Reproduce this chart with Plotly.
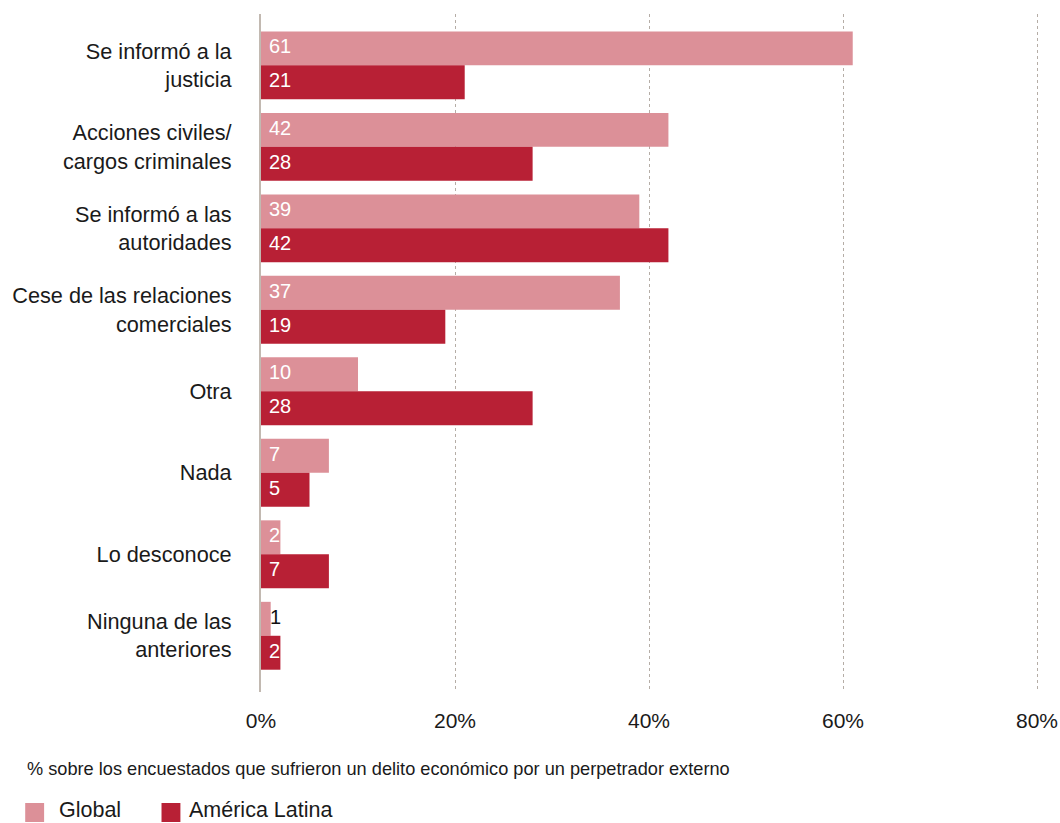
import plotly.graph_objects as go

categories = [
    "Se informó a la<br>justicia",
    "Acciones civiles/<br>cargos criminales",
    "Se informó a las<br>autoridades",
    "Cese de las relaciones<br>comerciales",
    "Otra",
    "Nada",
    "Lo desconoce",
    "Ninguna de las<br>anteriores",
]
global_vals = [61, 42, 39, 37, 10, 7, 2, 1]
latam_vals = [21, 28, 42, 19, 28, 5, 7, 2]
x_ticks = [0, 20, 40, 60, 80]
x_tick_labels = ["0%", "20%", "40%", "60%", "80%"]
series_names = ["Global", "América Latina"]

FONT = "Liberation Sans, Arial, sans-serif"
C_GLOBAL = "#dc9098"
C_LATAM = "#b82035"
TEXT = "#1a1a1a"

# plot area in pixels (used to place the footnote and the legend below it)
L, R, T, B = 257, 15, 14, 131
W, H = 1060, 823
PW, PH = W - L - R, H - T - B
X_MAX = 80.82  # a little room past the 80% gridline
BAR_PX = 34    # drawn height of one bar in the group


def px_x(px):
    return (px - L) / PW


def px_y(py):
    return (H - B - py) / PH


fig = go.Figure()
for name, vals, color in [(series_names[0], global_vals, C_GLOBAL),
                          (series_names[1], latam_vals, C_LATAM)]:
    fig.add_trace(go.Bar(
        name=name, y=categories, x=vals, orientation="h",
        marker=dict(color=color, line=dict(width=0)),
        hovertemplate="%{y}: %{x}%<extra>" + name + "</extra>",
        showlegend=False,
    ))

# value labels: inside the bar at its base, or just past the end when the bar is too short
for vals, shift in [(global_vals, BAR_PX / 2 + 2), (latam_vals, -BAR_PX / 2 + 2)]:
    for cat, v in zip(categories, vals):
        inside = v >= 2
        fig.add_annotation(
            text=str(v), xref="x", yref="y",
            x=0 if inside else v, y=cat,
            xanchor="left", yanchor="middle",
            xshift=6 if inside else -3, yshift=shift,
            showarrow=False,
            font=dict(family=FONT, size=20, color="#ffffff" if inside else "#111111"),
        )

# the last tick label sits at the right edge, so it is written separately
axis_labels = [t if v < x_ticks[-1] else "" for v, t in zip(x_ticks, x_tick_labels)]

fig.update_layout(
    width=W, height=H,
    margin=dict(l=L, r=R, t=T, b=B),
    paper_bgcolor="white", plot_bgcolor="white",
    barmode="group", bargap=0.167, bargroupgap=0,
    font=dict(family=FONT, size=21.7, color=TEXT),
    xaxis=dict(
        range=[0, X_MAX], tickvals=x_ticks, ticktext=axis_labels,
        showgrid=True, gridcolor="#b5ada6", griddash="dot", gridwidth=1,
        zeroline=False, showline=False,
        ticks="outside", ticklen=10, tickcolor="rgba(0,0,0,0)",
        tickfont=dict(family=FONT, size=21, color=TEXT),
        fixedrange=True,
    ),
    yaxis=dict(
        type="category", categoryorder="array", categoryarray=categories,
        range=[7.69, -0.63],
        showgrid=False, zeroline=False,
        showline=True, linecolor="#c2b9b1", linewidth=2,
        ticks="outside", ticklen=23, tickcolor="rgba(0,0,0,0)",
        tickfont=dict(family=FONT, size=21.7, color=TEXT),
        fixedrange=True,
    ),
)

fig.add_annotation(
    text=x_tick_labels[-1], xref="x", yref="paper",
    x=x_ticks[-1], y=px_y(720), xanchor="center", yanchor="middle",
    showarrow=False, font=dict(family=FONT, size=21, color=TEXT),
)

fig.add_annotation(
    text="% sobre los encuestados que sufrieron un delito económico por un perpetrador externo",
    xref="paper", yref="paper", x=px_x(20), y=px_y(769),
    xanchor="left", yanchor="middle", showarrow=False,
    font=dict(family=FONT, size=18.2, color=TEXT),
)

# legend: colour swatch + series name
for name, color, sx, tx in [(series_names[0], C_GLOBAL, 20, 52),
                            (series_names[1], C_LATAM, 157, 183)]:
    fig.add_shape(
        type="rect", xref="paper", yref="paper",
        x0=px_x(sx), x1=px_x(sx + 19), y0=px_y(822), y1=px_y(803),
        fillcolor=color, line=dict(width=0),
    )
    fig.add_annotation(
        text=name, xref="paper", yref="paper",
        x=px_x(tx), y=px_y(810), xanchor="left", yanchor="middle",
        showarrow=False, font=dict(family=FONT, size=21.5, color=TEXT),
    )

fig.write_html("out.html")
